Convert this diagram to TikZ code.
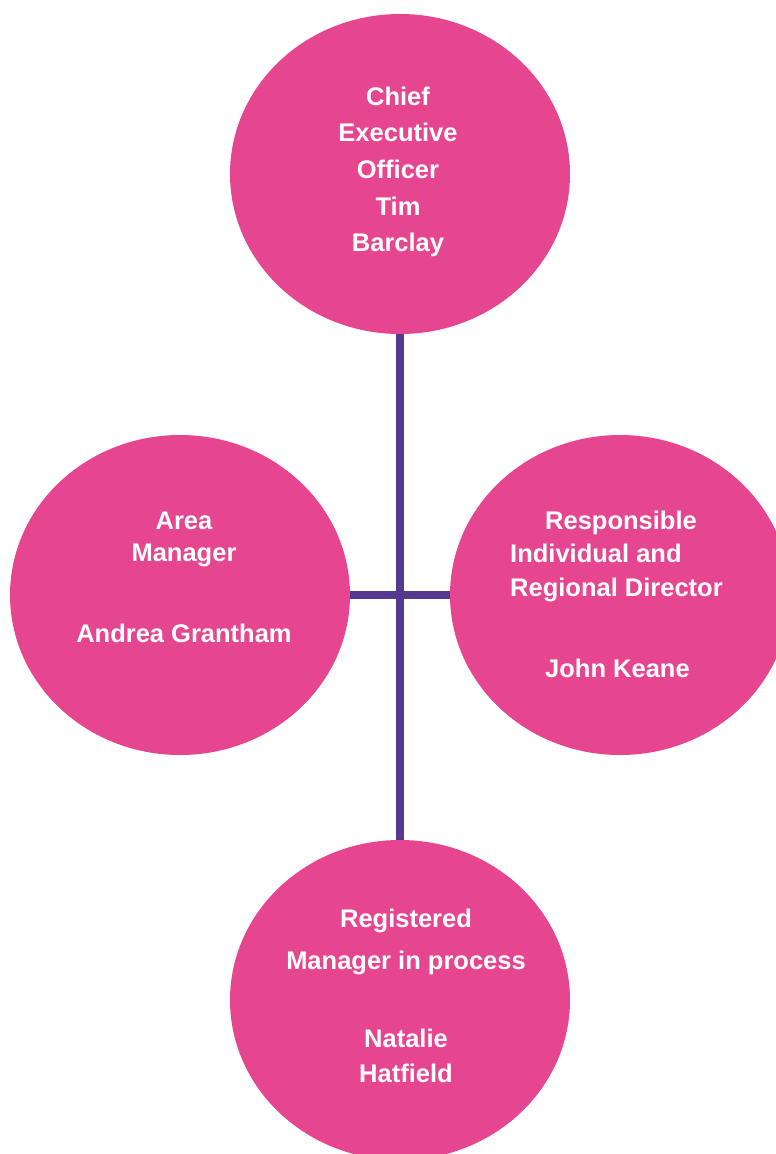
\documentclass[tikz,border=0pt]{standalone}
\usepackage{fontspec}
\setmainfont{Liberation Sans}
\usetikzlibrary{shapes.geometric}

\definecolor{bubble-color}{HTML}{E5468F}
\definecolor{link-color}{HTML}{573890}

\begin{document}
\begin{tikzpicture}[x=1pt,y=-1pt,
bubble/.style={ellipse, fill=bubble-color, draw=none, inner sep=0pt, minimum width=340pt, minimum height=320pt},
link/.style={draw=link-color, line width=8pt},
bubbletext/.style={text=white, inner sep=0pt, font={\fontsize{25.5}{36.7}\selectfont\bfseries}}]
\useasboundingbox (0,0) rectangle (776,1154);

% people
\node (ceo) [bubble] at (400,174) {};
\node (am) [bubble] at (180,595) {};
\node (ri) [bubble] at (620,595) {};
\node (rm) [bubble] at (400,1000) {};
%
\draw[link] (ceo.south) -- (rm.north);
\draw[link] (am.east) -- (ri.west);
%
\node (ceo-text) [bubbletext, align=center] at (398,172) {Chief\\Executive\\Officer\\Tim\\Barclay};
\node (am-text) [bubbletext, align=center, font={\fontsize{25.5}{32}\selectfont\bfseries}] at (184,577)
  {Area\\Manager\\[49pt]Andrea Grantham};
\node (ri-text) [bubbletext, align=left, anchor=west, font={\fontsize{25.5}{33.5}\selectfont\bfseries}] at (510,594)
  {\hspace*{35pt}Responsible\\Individual and\\Regional Director\\[47.5pt]\hspace*{35pt}John Keane};
\node (rm-text) [bubbletext, align=center, font={\fontsize{25.5}{35}\selectfont\bfseries}] at (406,996)
  {Registered\\[7pt]Manager in process\\[43pt]Natalie\\Hatfield};

\end{tikzpicture}
\end{document}
